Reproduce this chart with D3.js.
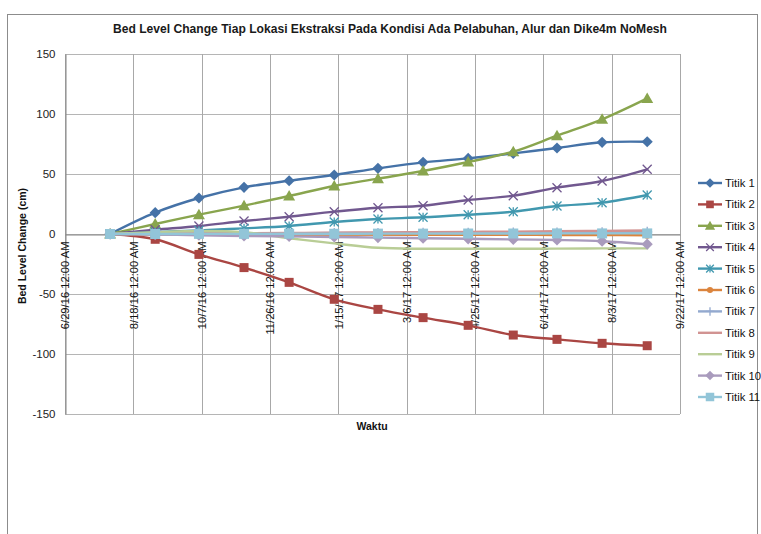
<!DOCTYPE html>
<html>
<head>
<meta charset="utf-8">
<script src="https://cdn.jsdelivr.net/npm/d3@7"></script>
<style>
  html, body { margin: 0; padding: 0; background: #fff; }
  svg { display: block; font-family: "Liberation Sans", Arial, sans-serif; }
</style>
</head>
<body>
<svg id="chart" width="761" height="534"></svg>
<script>
// Survey dates of each measurement (x values)
const dates = ["2016-08-01", "2016-09-03", "2016-10-05", "2016-11-07", "2016-12-10",
  "2017-01-12", "2017-02-13", "2017-03-18", "2017-04-20", "2017-05-23", "2017-06-24", "2017-07-27", "2017-08-29"];

const seriesNames = ["Titik 1", "Titik 2", "Titik 3", "Titik 4", "Titik 5", "Titik 6",
  "Titik 7", "Titik 8", "Titik 9", "Titik 10", "Titik 11"];

// Bed level change (cm) per location
const titik1  = [0, 17.8, 30.0, 38.9, 44.4, 49.2, 54.7, 59.7, 63.0, 67.2, 71.7, 76.4, 76.9];
const titik2  = [0, -4.4, -17.0, -28.0, -40.3, -54.4, -62.8, -69.7, -76.1, -84.2, -87.8, -91.1, -93.1];
const titik3  = [0, 8.3, 16.1, 23.6, 31.7, 40.0, 46.1, 52.5, 60.0, 68.6, 81.9, 95.6, 113.0];
const titik4  = [0, 3.5, 6.7, 10.8, 14.4, 18.6, 21.9, 23.6, 28.3, 31.9, 38.6, 44.2, 53.9];
const titik5  = [0, 1.5, 3.0, 4.7, 6.7, 10.0, 12.5, 13.9, 16.1, 18.6, 23.3, 26.1, 32.5];
const titik6  = [0, -0.1, -0.2, -0.3, -0.4, -0.5, -0.5, -0.6, -0.7, -0.7, -0.8, -0.9, -1.0];
const titik7  = [0, 0.3, 0.5, 0.6, 0.7, 0.8, 0.9, 1.0, 1.1, 1.2, 1.3, 1.5, 1.8];
const titik8  = [0, 0.3, 0.5, 0.7, 0.9, 1.1, 1.3, 1.5, 1.8, 2.0, 2.3, 2.6, 2.9];
const titik9  = [0, 1.5, 2.5, 1.5, -3.5, -7.8, -11.5, -12.3, -12.3, -12.3, -12.2, -12.0, -12.0];
const titik10 = [0, -0.5, -1.0, -1.7, -2.0, -2.5, -3.0, -3.5, -4.0, -4.5, -5.0, -6.0, -8.5];
const titik11 = [0, 0.0, 0.1, 0.1, 0.2, 0.2, 0.3, 0.3, 0.4, 0.4, 0.5, 0.5, 0.5];

const seriesValues = [titik1, titik2, titik3, titik4, titik5, titik6, titik7, titik8, titik9, titik10, titik11];

const colors = ["#4572A7", "#AA4643", "#89A54E", "#71588F", "#4198AF", "#DB843D",
  "#93A9CF", "#D19392", "#B9CD96", "#A99BBD", "#92C5D8"];
const markers = ["diamond", "square", "triangle", "x", "asterisk", "circle", "plus", "none", "none", "diamond", "square"];

// Axis ticks
const xTickDates = ["2016-06-29", "2016-08-18", "2016-10-07", "2016-11-26", "2017-01-15",
  "2017-03-06", "2017-04-25", "2017-06-14", "2017-08-03", "2017-09-22"];
const yTicks = [-150, -100, -50, 0, 50, 100, 150];

const parse = d3.timeParse("%Y-%m-%d");
const fmt = d => `${d.getMonth() + 1}/${d.getDate()}/${String(d.getFullYear()).slice(2)} 12:00 AM`;

const svg = d3.select("#chart");

const plot = { left: 65, right: 680, top: 54, bottom: 414 };

const x = d3.scaleTime()
  .domain([parse(xTickDates[0]), parse(xTickDates[xTickDates.length - 1])])
  .range([plot.left, plot.right]);
const y = d3.scaleLinear().domain([-150, 150]).range([plot.bottom, plot.top]);

// Chart frame
svg.append("rect")
  .attr("x", 7.5).attr("y", 14.5).attr("width", 750).attr("height", 540)
  .attr("fill", "#fff").attr("stroke", "#8c8c8c").attr("stroke-width", 1);

// Title
svg.append("text")
  .attr("x", 390).attr("y", 33)
  .attr("text-anchor", "middle")
  .attr("font-weight", "bold").attr("font-size", 12.1)
  .attr("fill", "#1a1a1a")
  .text("Bed Level Change Tiap Lokasi Ekstraksi Pada Kondisi Ada Pelabuhan, Alur dan Dike4m NoMesh");

// Gridlines
const grid = svg.append("g").attr("class", "grid");
grid.selectAll("line.h").data(yTicks).join("line")
  .attr("x1", plot.left).attr("x2", plot.right)
  .attr("y1", d => Math.round(y(d)) + 0.5).attr("y2", d => Math.round(y(d)) + 0.5)
  .attr("stroke", "#b5b5b5");
grid.selectAll("line.v").data(xTickDates).join("line")
  .attr("x1", d => Math.round(x(parse(d))) + 0.5).attr("x2", d => Math.round(x(parse(d))) + 0.5)
  .attr("y1", plot.top).attr("y2", plot.bottom)
  .attr("stroke", "#a8a8a8");

// Y axis
const yAxis = svg.append("g")
  .attr("transform", `translate(${plot.left + 0.5},0)`)
  .call(d3.axisLeft(y).tickValues(yTicks).tickFormat(d => String(d)).tickSize(0).tickPadding(10));
yAxis.select(".domain").attr("stroke", "#868686");
yAxis.selectAll("text").attr("font-size", 11.5).attr("fill", "#222").attr("font-family", "Liberation Sans, Arial, sans-serif");

// X axis crossing at zero
const xAxis = svg.append("g")
  .attr("transform", `translate(0,${Math.round(y(0)) + 0.5})`)
  .call(d3.axisBottom(x).tickValues(xTickDates.map(parse)).tickFormat(fmt).tickSize(0));
xAxis.select(".domain").attr("stroke", "#868686");
xAxis.selectAll("text")
  .attr("font-size", 11.2).attr("fill", "#111").attr("font-family", "Liberation Sans, Arial, sans-serif")
  .attr("text-anchor", "end")
  .attr("transform", "rotate(-90)")
  .attr("x", -7).attr("y", 0).attr("dy", "0.35em");

// Axis titles
svg.append("text")
  .attr("transform", "translate(26,246) rotate(-90)")
  .attr("text-anchor", "middle").attr("font-weight", "bold").attr("font-size", 10.5)
  .attr("fill", "#111")
  .text("Bed Level Change (cm)");
svg.append("text")
  .attr("x", 372).attr("y", 430)
  .attr("text-anchor", "middle").attr("font-weight", "bold").attr("font-size", 10.5)
  .attr("fill", "#111")
  .text("Waktu");

// Marker drawing
function drawMarker(g, type, color, size) {
  const s = size;
  switch (type) {
    case "diamond":
      g.append("path").attr("d", `M0,${-s * 0.62}L${s * 0.62},0L0,${s * 0.62}L${-s * 0.62},0Z`).attr("fill", color);
      break;
    case "square":
      g.append("rect").attr("x", -s / 2).attr("y", -s / 2).attr("width", s).attr("height", s).attr("fill", color);
      break;
    case "triangle":
      g.append("path").attr("d", `M0,${-s * 0.6}L${s * 0.6},${s * 0.45}L${-s * 0.6},${s * 0.45}Z`).attr("fill", color);
      break;
    case "x":
      g.append("path").attr("d", `M${-s / 2},${-s / 2}L${s / 2},${s / 2}M${s / 2},${-s / 2}L${-s / 2},${s / 2}`)
        .attr("stroke", color).attr("stroke-width", 1.3).attr("fill", "none");
      break;
    case "asterisk":
      g.append("path").attr("d", `M${-s / 2},${-s / 2}L${s / 2},${s / 2}M${s / 2},${-s / 2}L${-s / 2},${s / 2}M0,${-s / 2}L0,${s / 2}`)
        .attr("stroke", color).attr("stroke-width", 1.3).attr("fill", "none");
      break;
    case "circle":
      g.append("circle").attr("r", s * 0.45).attr("fill", color);
      break;
    case "plus":
      g.append("path").attr("d", `M${-s / 2},0L${s / 2},0M0,${-s / 2}L0,${s / 2}`)
        .attr("stroke", color).attr("stroke-width", 1.3).attr("fill", "none");
      break;
    default:
      break;
  }
}

const markerSize = [9, 9, 10, 9, 9, 8, 10, 0, 0, 9, 10];

const line = d3.line()
  .x(d => x(d.date))
  .y(d => y(d.value))
  .curve(d3.curveCatmullRom.alpha(0.5));

const seriesG = svg.append("g");
seriesValues.forEach((vals, i) => {
  const pts = vals.map((v, j) => ({ date: parse(dates[j]), value: v }));
  const g = seriesG.append("g");
  g.append("path").datum(pts)
    .attr("d", line)
    .attr("fill", "none").attr("stroke", colors[i]).attr("stroke-width", 2.4)
    .attr("stroke-linejoin", "round").attr("stroke-linecap", "round");
  pts.forEach(p => {
    const mg = g.append("g").attr("transform", `translate(${x(p.date)},${y(p.value)})`);
    drawMarker(mg, markers[i], colors[i], markerSize[i]);
  });
});

// Legend
const legend = svg.append("g");
seriesNames.forEach((name, i) => {
  const ly = 183 + i * 21.4;
  const g = legend.append("g").attr("transform", `translate(0,${ly})`);
  g.append("line").attr("x1", 698).attr("x2", 722).attr("y1", 0).attr("y2", 0)
    .attr("stroke", colors[i]).attr("stroke-width", 2.4);
  const mg = g.append("g").attr("transform", "translate(710,0)");
  drawMarker(mg, markers[i], colors[i], markerSize[i] * 0.85);
  g.append("text").attr("x", 725).attr("y", 0).attr("dy", "0.35em")
    .attr("font-size", 11.3).attr("fill", "#111").text(name);
});
</script>
</body>
</html>
